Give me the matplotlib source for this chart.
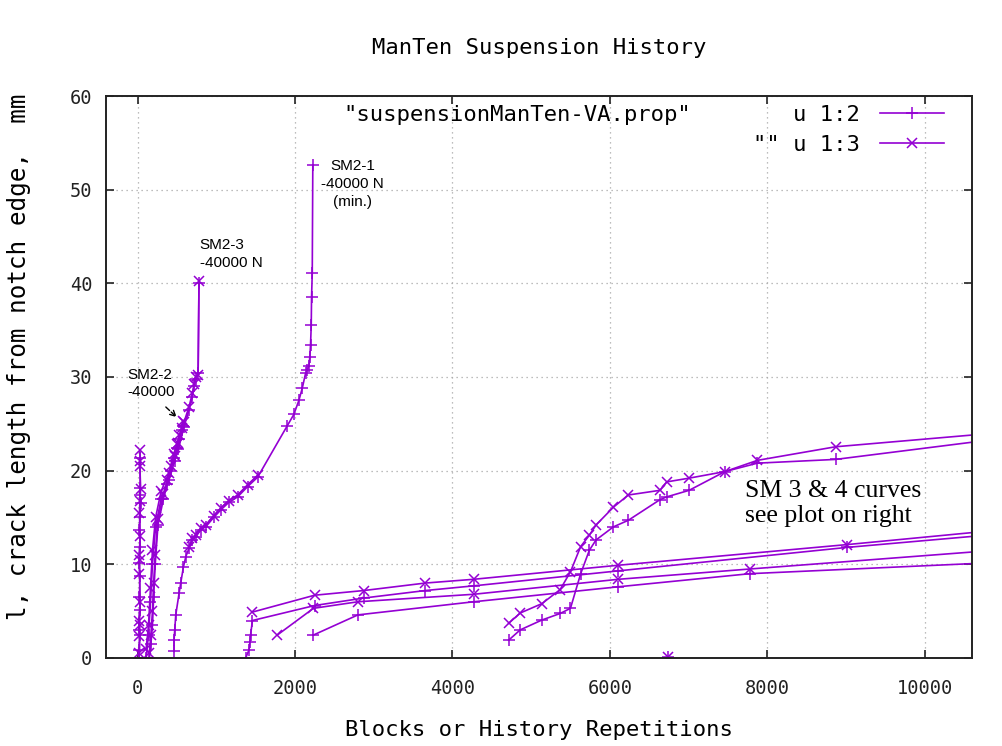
import numpy as np
import matplotlib
matplotlib.use("Agg")
import matplotlib.pyplot as plt
from matplotlib.lines import Line2D

nan = np.nan
PURPLE = "#9400d3"

# each block: shared x column, col 2 ('+') and col 3 ('x'); nan = no value
near0_x = [20, 25, 30, 15, 35, 25, 30, 20, 35, 25, 30, 40, 30, 35, 30]
near0_c2 = [0, 0.9, 2.5, 3.0, 5.1, 6.5, 8.7, 10.1, 11.9, 13.7, 15.1, 16.5, 17.4, 18.1, 21.3]
near0_c3 = [0.5, 2.3, 3.5, 4.0, 6.0, 9.0, 10.5, 11.0, 13.0, 15.5, 16.8, 18.0, 20.5, 21.0, 22.2]

sm22_x = [150, 170, 190, 205, 225, 260, 330, 380, 420, 460, 500, 530, 560, 575]
sm22_c2 = [0, 1.5, 3.5, 6.5, 10.0, 14.2, 17.0, 18.6, 20.0, 21.3, 22.4, 23.4, 24.3, 24.8]
sm22_c3 = [0.5, 2.5, 5.0, 8.0, 11.0, 14.8, 17.5, 19.0, 20.5, 21.8, 22.8, 23.8, 24.6, 25.3]

sm23_x = [110, 140, 165, 190, 230, 300, 400, 470, 520, 591, 654, 698, 718, 739, 770, 781]
sm23_c2 = [0, 2.5, 6.0, 10.0, 14.0, 17.0, 19.0, 21.0, 22.3, 24.7, 26.5, 27.9, 29.0, 29.8, 30.4, 40.0]
sm23_c3 = [1.0, 3.5, 7.5, 11.5, 15.0, 17.8, 19.8, 21.6, 23.0, 25.2, 26.8, 28.3, 29.3, 30.0, 30.2, 40.2]

sm21_x = [464, 464, 473, 486, 528, 549, 583, 613, 654, 698, 739, 803, 866, 968, 1057,
          1158, 1272, 1399, 1526, 1903, 1986, 2050, 2093, 2135, 2156, 2177, 2189,
          2198, 2207, 2211, 2220, 2227]
sm21_c2 = [0.7, 1.9, 3.0, 4.6, 6.9, 8.0, 9.7, 10.8, 11.7, 12.6, 12.9, 13.7, 14.0, 15.0, 15.8,
           16.6, 17.2, 18.3, 19.3, 24.8, 26.0, 27.5, 28.8, 30.4, 30.7, 31.2, 32.1,
           33.4, 35.5, 38.5, 41.1, 52.6]
sm21_c3 = [nan, nan, nan, nan, nan, nan, nan, nan, 11.9, 12.8, 13.1, 13.9, 14.2, 15.2, 16.0,
           16.8, 17.4, 18.5, 19.5, nan, nan, nan, nan, nan, nan, nan, nan,
           nan, nan, nan, nan, nan]

sm3_x = [1374, 1416, 1428, 1437, 1460, 2250, 2875, 3657, 4270, 6108, 9007, 11984]
sm3_c2 = [0, 0.85, 1.7, 2.5, 4.0, 5.6, 6.4, 7.2, 7.7, 9.3, 11.8, 14.0]
sm3_c3 = [nan, nan, nan, nan, 4.9, 6.7, 7.2, 8.0, 8.4, 9.9, 12.1, 14.5]

sm4_x = [1776, 2235, 2800, 4270, 6108, 7780, 11984]
sm4_c2 = [nan, 2.45, 4.6, 6.0, 7.6, 9.0, 10.6]
sm4_c3 = [2.45, 5.3, 6.0, 6.8, 8.4, 9.5, 12.2]

s_x = [4715, 4862, 5137, 5369, 5500, 5630, 5740, 5825, 6046, 6235, 6637, 6723,
       7008, 7462, 7875, 8868, 11984]
s_c2 = [1.9, 3.0, 4.05, 4.75, 5.3, 9.0, 11.5, 12.6, 14.0, 14.7, 16.9, 17.2,
        17.9, 19.9, 20.8, 21.2, 24.5]
s_c3 = [3.7, 4.8, 5.8, 7.3, 9.2, 11.9, 13.1, 14.2, 16.1, 17.4, 17.9, 18.8,
        19.2, 19.9, 21.1, 22.55, 24.8]

lone_x = [6740]
lone_c2 = [0.1]
lone_c3 = [0.1]

blocks = [
    (near0_x, near0_c2, near0_c3),
    (sm22_x, sm22_c2, sm22_c3),
    (sm23_x, sm23_c2, sm23_c3),
    (sm21_x, sm21_c2, sm21_c3),
    (sm3_x, sm3_c2, sm3_c3),
    (sm4_x, sm4_c2, sm4_c3),
    (s_x, s_c2, s_c3),
    (lone_x, lone_c2, lone_c3),
]

MONO = "DejaVu Sans Mono"
plt.rcParams["font.family"] = MONO

fig = plt.figure(figsize=(10.03, 7.46), dpi=100)
ax = fig.add_axes([0.1057, 0.118, 0.8633, 0.7533])

for bx, c2, c3 in blocks:
    ax.plot(bx, c2, color=PURPLE, lw=1.2, marker="+", ms=8, mew=1.1)
    ax.plot(bx, c3, color=PURPLE, lw=1.2, marker="x", ms=7, mew=1.1)

ax.set_xlim(-400, 10600)
ax.set_ylim(0, 60)
ax.set_xticks(np.arange(0, 10001, 2000))
ax.set_yticks(np.arange(0, 61, 10))
ax.grid(True, color="#a8a8a8", lw=0.9, linestyle=(0, (1, 3)))
ax.tick_params(direction="in", length=6, width=1.2, top=True, right=True,
               labelsize=13.4, colors="#222222")
ax.tick_params(axis="x", pad=15)
ax.tick_params(axis="y", pad=10)
for s in ax.spines.values():
    s.set_linewidth(1.4)
    s.set_color("#222222")

ax.set_title("ManTen Suspension History", fontsize=16, pad=30)
ax.set_xlabel("Blocks or History Repetitions", fontsize=16, labelpad=16)
ax.set_ylabel("l, crack length from notch edge,  mm", fontsize=17.5)
ax.yaxis.set_label_coords(-0.087, 0.536)

# key
handles = [
    Line2D([], [], color=PURPLE, lw=1.2, marker="+", ms=8, mew=1.1),
    Line2D([], [], color=PURPLE, lw=1.2, marker="x", ms=7, mew=1.1),
]
ax.legend(handles, ["u 1:2", '"" u 1:3'], loc="upper right",
          bbox_to_anchor=(0.978, 1.0), frameon=False, markerfirst=False,
          handlelength=2.9, handletextpad=0.9, labelspacing=0.45,
          borderaxespad=0, numpoints=1, fontsize=16)
ax.text(0.4746, 0.967, '"suspensionManTen-VA.prop"', transform=ax.transAxes,
        ha="center", va="center", fontsize=16)

# annotations
SANS = "Liberation Sans"
ax.text(2731, 50.6, "SM2-1\n-40000 N\n(min.)", ha="center", va="center",
        family=SANS, fontsize=11, linespacing=1.35)
ax.text(790, 43.1, "SM2-3\n-40000 N", ha="left", va="center",
        family=SANS, fontsize=11, linespacing=1.35)
ax.text(-123, 29.3, "SM2-2\n-40000", ha="left", va="center",
        family=SANS, fontsize=11, linespacing=1.35)
ax.annotate("", xy=(524, 25.5), xytext=(334, 27.0),
            arrowprops=dict(arrowstyle="->", color="black", lw=1.0, linestyle="--"))
ax.text(7720, 16.5, "SM 3 & 4 curves\nsee plot on right", ha="left", va="center",
        family="Liberation Serif", fontsize=18.5, linespacing=1.18)

fig.savefig("out.png", dpi=100)
